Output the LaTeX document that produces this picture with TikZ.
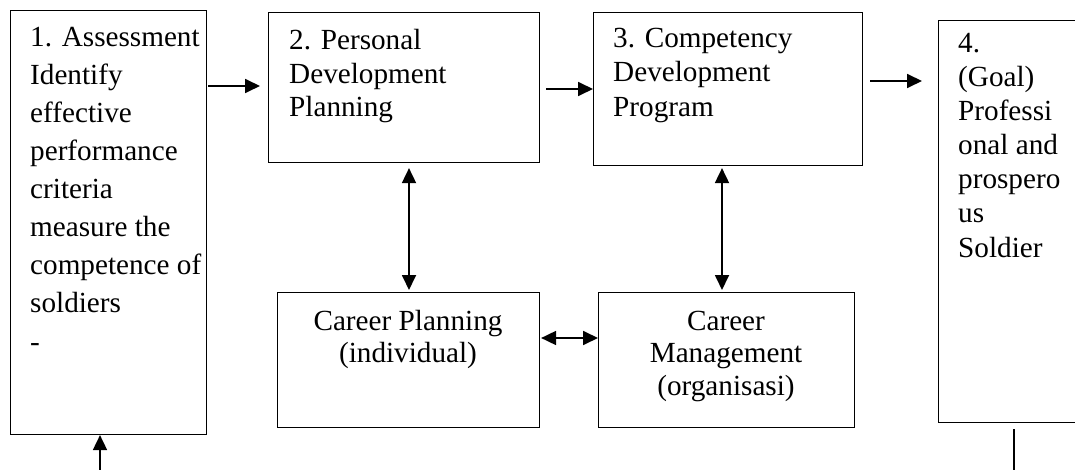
\documentclass[tikz,border=0pt]{standalone}
\usepackage{fontspec}
\setmainfont{Liberation Serif}
\usetikzlibrary{arrows.meta}
\begin{document}
\begin{tikzpicture}[x=1pt,y=-1pt,
  box/.style={draw=black, line width=1.1pt, rectangle, inner sep=0pt, anchor=north west},
  % multi-line texts are placed by the baseline of their last line
  body/.style={inner sep=0pt, anchor=base west, align=left, font=\fontsize{29.2}{#1}\selectfont},
  body/.default=33.5,
  mid/.style={inner sep=0pt, anchor=base, align=center, font=\fontsize{29.2}{#1}\selectfont},
  mid/.default=32.5,
  link/.style={line width=1.8pt, -{Triangle[length=15pt,width=14pt]}},
  both/.style={line width=1.8pt, {Triangle[length=15pt,width=14pt]}-{Triangle[length=15pt,width=14pt]}},
  plain/.style={line width=1.8pt}
]
\useasboundingbox (0,0) rectangle (1075,470);
\clip (0,0) rectangle (1075,470);

% boxes
\node[box, minimum width=196pt, minimum height=424pt] (b1) at (10,10) {};
\node[box, minimum width=271pt, minimum height=150pt] (b2) at (268,12) {};
\node[box, minimum width=269pt, minimum height=153pt] (b3) at (593,12) {};
\node[box, minimum width=170pt, minimum height=402pt] (b4) at (938,20) {};
\node[box, minimum width=262pt, minimum height=135pt] (cp) at (277,292) {};
\node[box, minimum width=256pt, minimum height=135pt] (cm) at (598,292) {};

% box texts
\node[body=38.1] (t1) at (30,351) {1. Assessment\\Identify\\effective\\performance\\criteria\\measure the\\competence of\\soldiers\\-};
\node[body=33.5] (t2) at (289,117) {2. Personal\\Development\\Planning};
\node[body=34.5] (t3) at (613,116.5) {3. Competency\\Development\\Program};
\node[body=34] (t4) at (958,257) {4.\\(Goal)\\Professi\\onal and\\prospero\\us\\Soldier};
\node[mid] (t5) at (408,362.5) {Career Planning\\(individual)};
\node[mid] (t6) at (726,395) {Career\\Management\\(organisasi)};

% connectors
\coordinate (feed) at (100,470);
\coordinate (out) at (1014,470);
\draw[link] (feed) -- (b1.south -| feed);
\draw[link, shorten <=1pt, shorten >=8pt] ([yshift=-76pt]b1.north east) -- ([yshift=-74pt]b2.north west);
\draw[link, shorten <=6pt] ([yshift=-77pt]b2.north east) -- ([yshift=-77pt]b3.north west);
\draw[link, shorten <=7pt, shorten >=16pt] ([yshift=-69pt]b3.north east) -- ([yshift=-61pt]b4.north west);
\draw[both, shorten <=5pt, shorten >=2pt] ([xshift=141pt]b2.south west) -- ([xshift=132pt]cp.north west);
\draw[both, shorten <=2pt, shorten >=2pt] ([xshift=129pt]b3.south west) -- ([xshift=124pt]cm.north west);
\draw[both, shorten <=1pt] ([yshift=-46pt]cp.north east) -- ([yshift=-46pt]cm.north west);
\draw[plain] (out) -- ([xshift=76pt, yshift=-6pt]b4.south west);
\end{tikzpicture}
\end{document}
